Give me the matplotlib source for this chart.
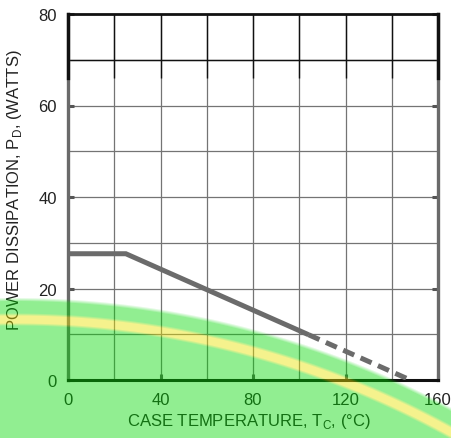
import numpy as np
import matplotlib
matplotlib.use('Agg')
import matplotlib.pyplot as plt

# ---- data ----
temp_solid = [0, 25, 104]
power_solid = [27.6, 27.6, 9.9]
temp_dashed = [104, 148]
power_dashed = [9.9, 0]
x_ticks = [0, 40, 80, 120, 160]
y_ticks = [0, 20, 40, 60, 80]
x_grid = [20, 40, 60, 80, 100, 120, 140]
y_grid = [10, 20, 30, 40, 50, 60, 70]

plt.rcParams['font.family'] = ['Liberation Sans', 'DejaVu Sans']
plt.rcParams['mathtext.fontset'] = 'custom'
plt.rcParams['mathtext.rm'] = 'Liberation Sans'

W, H = 451, 439
fig = plt.figure(figsize=(W / 100, H / 100), dpi=100)
fig.patch.set_facecolor('white')
ax = fig.add_axes([68 / W, 1 - 381 / H, 370 / W, 366 / H])
ax.set_xlim(0, 160)
ax.set_ylim(0, 80)

grid_c = '#747474'
ax.vlines(x_grid, 0, 80, colors=grid_c, lw=0.9, zorder=1)
ax.hlines(y_grid, 0, 160, colors=grid_c, lw=0.9, zorder=1)
# darker upper part
ax.vlines(x_grid, 66, 80, colors='#111111', lw=1.0, zorder=1.5)
ax.hlines([70], 0, 160, colors='#111111', lw=1.0, zorder=1.5)

for s in ['left', 'right']:
    ax.spines[s].set_color('#6a6a6a')
    ax.spines[s].set_linewidth(2.4)
ax.spines['top'].set_color('#111111')
ax.spines['top'].set_linewidth(2.0)
ax.spines['bottom'].set_color('#111111')
ax.spines['bottom'].set_linewidth(2.2)
ax.plot([0, 0], [66, 80], color='#111111', lw=2.4, zorder=5, clip_on=False)
ax.plot([160, 160], [66, 80], color='#111111', lw=2.4, zorder=5, clip_on=False)

ax.plot(temp_solid, power_solid, color='#6b6b6b', lw=3.6, solid_capstyle='butt',
        solid_joinstyle='miter', zorder=3)
ax.plot(temp_dashed, power_dashed, color='#6b6b6b', lw=3.6, linestyle=(0, (2.4, 1.4)),
        zorder=3)

ax.set_xticks(x_ticks)
ax.set_yticks(y_ticks)
ax.tick_params(axis='both', direction='in', length=4, width=2.2, colors='#555555',
               labelcolor='#222222', labelsize=12, top=False, right=True)
ax.tick_params(axis='x', pad=9)
ax.tick_params(axis='y', pad=8)

ax.set_xlabel(r'CASE TEMPERATURE, T$_\mathregular{C}$, (°C)', fontsize=12, color='#222222')
ax.xaxis.set_label_coords(0.49, -0.085)
ax.set_ylabel(r'POWER DISSIPATION, P$_\mathregular{D}$, (WATTS)', fontsize=12, color='#222222')
ax.yaxis.set_label_coords(-0.12, 0.52)

# ---- green/yellow overlay band (image artifact) ----
yy, xx = np.mgrid[0:H, 0:W]
r = np.hypot(xx - 14.0, yy - 1222.0)
d = r - 902.0
a_green = np.clip((22.0 - d) / 4.0, 0, 1)
w_yel = np.clip((6.5 - np.abs(d)) / 3.0, 0, 1)
green = np.array([0, 216, 0]) / 255.0
yellow = np.array([233, 227, 0]) / 255.0
rgb = green[None, None, :] * (1 - w_yel[..., None]) + yellow[None, None, :] * w_yel[..., None]
alpha = a_green * (0.435 * (1 - w_yel) + 0.45 * w_yel)
rgba = np.dstack([rgb, alpha])
ov = fig.add_axes([0, 0, 1, 1], zorder=10)
ov.imshow(rgba, extent=[0, W, H, 0], interpolation='bilinear', aspect='auto')
ov.set_xlim(0, W)
ov.set_ylim(H, 0)
ov.axis('off')

fig.savefig('out.png', dpi=100)
